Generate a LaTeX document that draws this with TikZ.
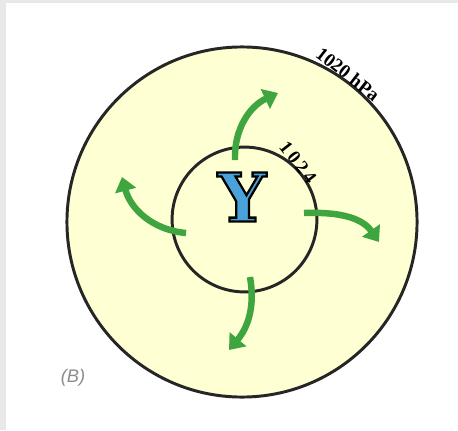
\documentclass[tikz,border=0pt]{standalone}
\usepackage{fontspec}
\newfontfamily\slabfont{DejaVu Serif}
\newfontfamily\isofont{Liberation Serif}
\setsansfont{Liberation Sans}
\usetikzlibrary{arrows.meta}
\definecolor{cpale}{HTML}{FFFFD4}
\definecolor{cgreen}{HTML}{3FA53F}
\definecolor{cblue}{HTML}{4AA2DA}
\definecolor{cframe}{HTML}{E8E8E8}
\definecolor{cgrey}{HTML}{8C8C8C}
% outlined glyphs: fill in the text colour, stroke in black
\newcommand{\outlined}[1]{\special{pdf:literal direct 0 0 0 RG 1.6 w 2 Tr}#1\special{pdf:literal direct 0 Tr}}
\tikzset{
  isobar/.style={draw=black!85, line width=2.1pt},
  wind/.style={draw=cgreen, line width=4.6pt, -{Triangle[length=10pt, width=15pt]}},
  isolabel/.style={font=\isofont\bfseries\fontsize{13.5}{13.5}\selectfont, inner sep=0pt},
  panel/.style={font=\sffamily\itshape\fontsize{13}{13}\selectfont, text=cgrey, inner sep=0pt},
  highmark/.style={font=\slabfont\bfseries\fontsize{48}{48}\selectfont, text=cblue, inner sep=0pt},
}

\begin{document}
\begin{tikzpicture}[x=0.025cm, y=0.025cm]
  % frame
  \fill[cframe] (0,0) rectangle (458,430);
  \fill[white] (6,0) rectangle (458,427);
  \useasboundingbox (0,0) rectangle (458,430);
  % isobars
  \coordinate (cout) at (242,208);
  \coordinate (cin) at (244.5,210.5);
  \draw[isobar, fill=cpale] (cout) circle[radius=4.375cm];
  \draw[isobar] (cin) circle[radius=1.81cm];
  \node[isolabel, rotate=-38] (p1020) at (348,356) {1020 hPa};
  \node[isolabel, rotate=-52] (p1024) at (298,268) {1\,0\,2\,4};
  % high pressure centre
  \node[highmark] (high) at (242,233) {\outlined{Y}};
  % outflow
  \coordinate (ns) at (235,270); \coordinate (ne) at (278,337);
  \coordinate (es) at (304,217); \coordinate (ee) at (379,188);
  \coordinate (ss) at (250,153); \coordinate (se) at (229,80);
  \coordinate (ws) at (186,197); \coordinate (we) at (122,253);
  \draw[wind] (ns) to[out=92, in=205] (ne);
  \draw[wind] (es) to[out=2, in=125] (ee);
  \draw[wind] (ss) to[out=-80, in=50] (se);
  \draw[wind] (ws) to[out=175, in=-75] (we);
  \node[panel] (tag) at (73,52) {(B)};
\end{tikzpicture}
\end{document}
